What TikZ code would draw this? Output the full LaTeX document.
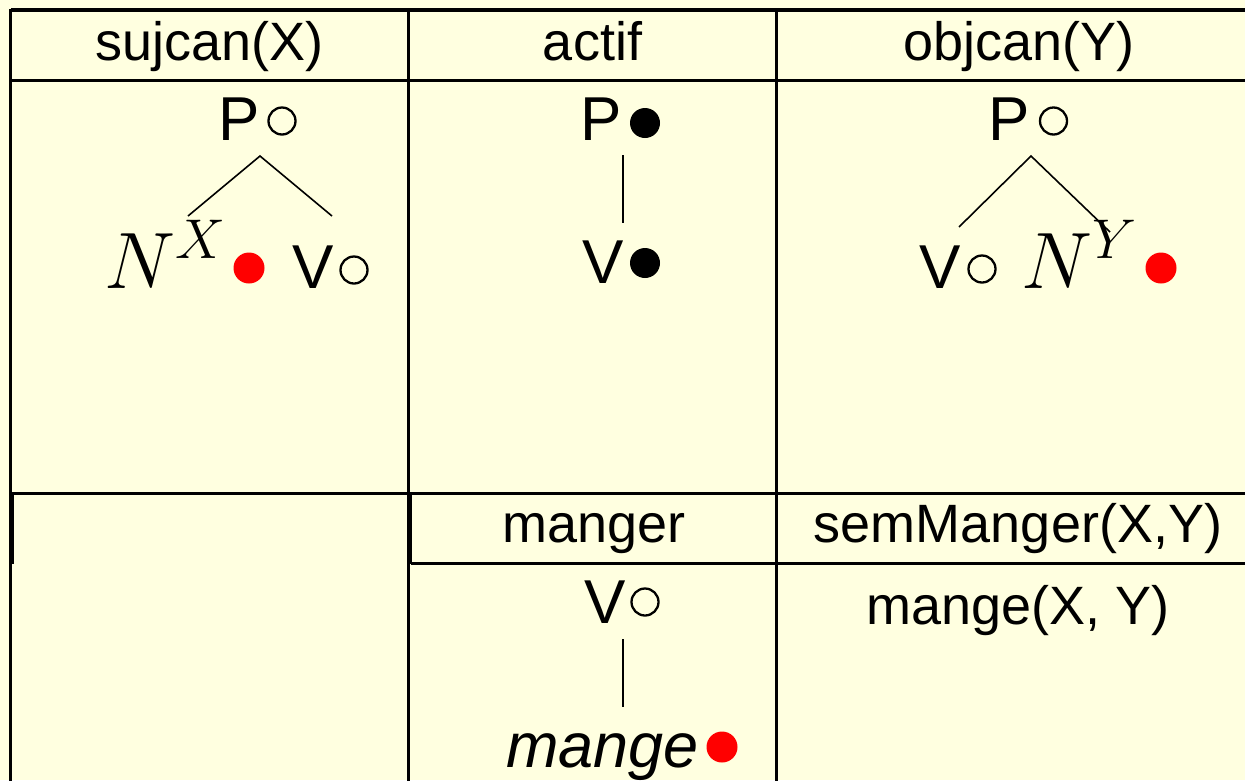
\RequirePackage{fix-cm}
\documentclass[tikz,border=0pt]{standalone}
\usepackage{fontspec}
\setmainfont{Liberation Sans}
\definecolor{paper}{HTML}{FFFFE0}
\definecolor{mark}{HTML}{FF0000}
\begin{document}
\begin{tikzpicture}[x=1pt,y=-1pt,
  rule/.style={line width=3.2pt},
  branch/.style={line width=1.6pt},
  head/.style={anchor=base,inner sep=0pt,font=\fontsize{54}{58}\selectfont},
  cat/.style={anchor=base west,inner sep=0pt,font=\fontsize{62}{68}\selectfont},
  word/.style={anchor=base west,inner sep=0pt,font=\itshape\fontsize{63}{68}\selectfont},
  mathlbl/.style={anchor=base west,inner sep=0pt,font=\fontsize{80}{90}\selectfont},
  opendot/.style={circle,draw,line width=2.3pt,minimum size=27pt,inner sep=0pt},
  fulldot/.style={circle,fill=black,minimum size=30pt,inner sep=0pt},
  reddot/.style={circle,fill=mark,minimum size=31pt,inner sep=0pt}]
\useasboundingbox (0,0) rectangle (1245,780);
\fill[paper] (0,0) rectangle (1245,780);
\clip (0,0) rectangle (1245,780);

% table rules
\draw[rule] (10.5,10) -- (1260,10);
\draw[rule] (10.5,80.5) -- (1260,80.5);
\draw[rule] (10.5,493.5) -- (1260,493.5);
\draw[rule] (410.5,563.5) -- (1260,563.5);
\draw[rule] (10.5,8.5) -- (10.5,790);
\draw[rule] (408.5,8.5) -- (408.5,790);
\draw[rule] (776.5,8.5) -- (776.5,790);
\draw[rule] (12.5,493.5) -- (12.5,563.5);
\draw[rule] (410.5,493.5) -- (410.5,563.5);

% column headings
\node[head] (h1) at (209.5,60) {sujcan(X)};
\node[head] (h2) at (592.5,60) {actif};
\node[head] (h3) at (1019,60) {objcan(Y)};
\node[head] (h4) at (594,542) {manger};
\node[head] (h5) at (1018,542) {semManger(X,Y)};
\node[head] (h6) at (1018,624) {mange(X, Y)};

% subject tree
\node[cat] (sP) at (218,140) {P};
\node[opendot] (sPc) at (282,121) {};
\node[mathlbl] (sN) at (104,288) {$N^{X}$};
\node[reddot] (sNd) at (249,268) {};
\node[cat] (sV) at (292,288) {V};
\node[opendot] (sVc) at (354,270) {};
\coordinate (sTop) at (260,156);
\coordinate (sLeft) at (188,216);
\coordinate (sRight) at (332,216);
\draw[branch] (sLeft) -- (sTop) -- (sRight);

% active tree
\node[cat] (aP) at (580,140) {P};
\node[fulldot] (aPd) at (645,123) {};
\node[cat] (aV) at (582,283) {V};
\node[fulldot] (aVd) at (645,263) {};
\coordinate (aTop) at (623,155);
\coordinate (aBot) at (623,223);
\draw[branch] (aTop) -- (aBot);

% object tree
\node[cat] (oP) at (988,140) {P};
\node[opendot] (oPc) at (1053.5,121) {};
\node[cat] (oV) at (919,288) {V};
\node[opendot] (oVc) at (982,269) {};
\node[mathlbl] (oN) at (1021,288) {$N^{Y}$};
\node[reddot] (oNd) at (1161,268) {};
\coordinate (oTop) at (1031,156);
\coordinate (oLeft) at (959,227);
\coordinate (oRight) at (1110,232);
\draw[branch] (oLeft) -- (oTop) -- (oRight);

% lexical tree
\node[cat] (mV) at (584,623) {V};
\node[opendot] (mVc) at (645,602) {};
\node[word] (mW) at (506,767) {mange};
\node[reddot] (mWd) at (722,747) {};
\coordinate (mTop) at (623,639);
\coordinate (mBot) at (623,707);
\draw[branch] (mTop) -- (mBot);
\end{tikzpicture}
\end{document}
